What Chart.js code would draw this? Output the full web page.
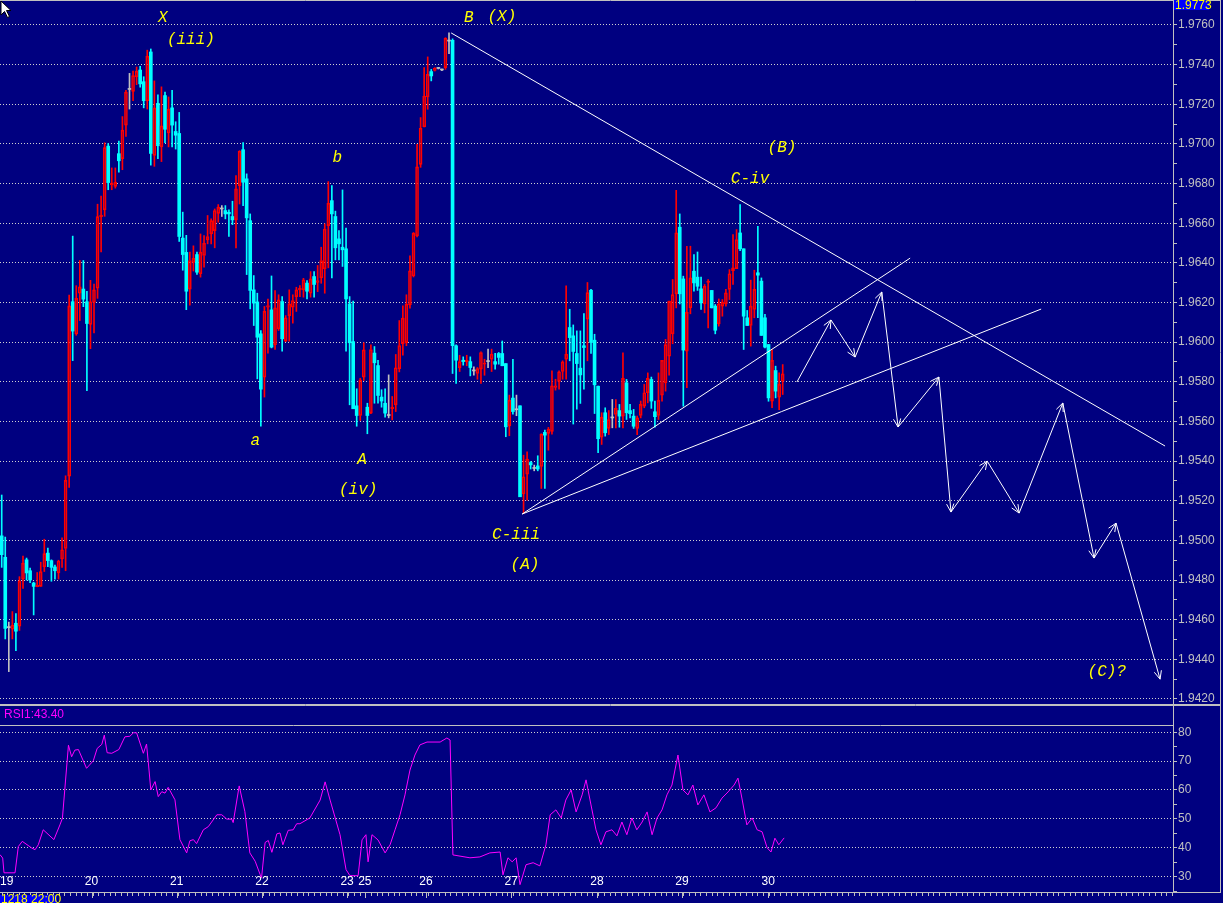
<!DOCTYPE html>
<html>
<head>
<meta charset="utf-8">
<script src="https://cdn.jsdelivr.net/npm/chart.js@4.4.1/dist/chart.umd.min.js"></script>
<style>
html,body{margin:0;padding:0;background:#000080;overflow:hidden;}
body{width:1223px;height:903px;position:relative;}
#w1{position:absolute;left:0;top:0;width:1223px;height:705px;}
#w2{position:absolute;left:0;top:705px;width:1223px;height:198px;}
</style>
</head>
<body>
<div id="w1"><canvas id="c1"></canvas></div>
<div id="w2"><canvas id="c2"></canvas></div>
<script>
// ---------------- DATA ----------------
const open = [1.95023,1.94915,1.94560,1.94552,1.94582,1.94567,1.94805,1.94902,1.94847,1.94785,
1.94766,1.94768,1.94867,1.94936,1.94898,1.94866,1.94836,1.94906,1.94959,1.95324,
1.96204,1.96041,1.96247,1.96268,1.96204,1.96090,1.96200,1.96272,1.96633,1.96667,
1.96989,1.96794,1.96786,1.96951,1.96926,1.97095,1.97275,1.97265,1.97339,1.97373,
1.97314,1.97218,1.97464,1.96942,1.97205,1.96985,1.97244,1.97055,1.97182,1.97063,
1.97053,1.96525,1.96453,1.96268,1.96402,1.96442,1.96345,1.96437,1.96516,1.96546,
1.96563,1.96650,1.96672,1.96664,1.96655,1.96634,1.96617,1.96790,1.96971,1.96824,
1.96613,1.96264,1.96203,1.96042,1.95824,1.96176,1.96163,1.95987,1.96067,1.96205,
1.96005,1.96134,1.96176,1.96230,1.96264,1.96264,1.96298,1.96247,1.96331,1.96302,
1.96324,1.96370,1.96588,1.96714,1.96634,1.96521,1.96479,1.96471,1.96193,1.96003,
1.95679,1.95630,1.95824,1.95672,1.95642,1.95945,1.95882,1.95723,1.95692,1.95630,
1.95664,1.95684,1.95866,1.95993,1.95998,1.96188,1.96334,1.96536,1.96897,1.97086,
1.97237,1.97365,1.97371,1.97381,1.97373,1.97385,1.97519,1.97523,1.95982,1.95872,
1.95909,1.95902,1.95902,1.95855,1.95842,1.95864,1.95889,1.95902,1.95914,1.95902,
1.95943,1.95943,1.95892,1.95578,1.95718,1.95659,1.95679,1.95234,1.95334,1.95393,
1.95363,1.95376,1.95373,1.95545,1.95540,1.95550,1.95772,1.95802,1.95852,1.95914,
1.96074,1.96032,1.95943,1.95869,1.95982,1.96116,1.96262,1.96010,1.95778,1.95521,
1.95644,1.95565,1.95618,1.95635,1.95655,1.95627,1.95795,1.95655,1.95627,1.95565,
1.95630,1.95677,1.95745,1.95812,1.95649,1.95630,1.95733,1.95795,1.95929,1.96042,
1.96244,1.96580,1.96319,1.95955,1.96173,1.96358,1.96328,1.96269,1.96193,1.96302,
1.96261,1.96182,1.96092,1.96182,1.96193,1.96266,1.96361,1.96371,1.96551,1.96471,
1.96123,1.96084,1.96165,1.96350,1.96308,1.96123,1.95988,1.95703,1.95857,1.95723,
1.95803];
const high = [1.95229,1.95017,1.94588,1.94641,1.94631,1.94817,1.94921,1.94911,1.94860,1.94789,
1.94838,1.94890,1.95006,1.94961,1.94902,1.94875,1.94900,1.95013,1.95326,1.96238,
1.96535,1.96285,1.96412,1.96412,1.96257,1.96312,1.96293,1.96696,1.96737,1.97006,
1.97002,1.96879,1.96879,1.97015,1.97138,1.97271,1.97356,1.97367,1.97388,1.97392,
1.97339,1.97473,1.97479,1.97318,1.97248,1.97288,1.97261,1.97237,1.97271,1.97112,
1.97159,1.96656,1.96539,1.96455,1.96486,1.96455,1.96546,1.96538,1.96639,1.96622,
1.96672,1.96694,1.96689,1.96689,1.96667,1.96711,1.96840,1.96966,1.97007,1.96849,
1.96647,1.96336,1.96247,1.96059,1.96180,1.96218,1.96334,1.96260,1.96239,1.96230,
1.96134,1.96264,1.96239,1.96277,1.96286,1.96322,1.96311,1.96356,1.96356,1.96387,
1.96479,1.96597,1.96810,1.96790,1.96661,1.96563,1.96768,1.96576,1.96230,1.96207,
1.95765,1.95818,1.95997,1.95692,1.95987,1.95978,1.95908,1.95760,1.95765,1.95835,
1.95726,1.95938,1.96109,1.96183,1.96239,1.96435,1.96553,1.96998,1.97133,1.97385,
1.97439,1.97376,1.97385,1.97383,1.97378,1.97536,1.97561,1.97530,1.95987,1.95934,
1.95926,1.95934,1.95926,1.95876,1.95872,1.95951,1.95914,1.95965,1.95965,1.95944,
1.95948,1.96006,1.95892,1.95733,1.95914,1.95733,1.95679,1.95430,1.95447,1.95398,
1.95380,1.95427,1.95538,1.95556,1.95570,1.95855,1.95813,1.95855,1.95906,1.96284,
1.96166,1.96087,1.96057,1.96057,1.96144,1.96301,1.96267,1.96040,1.95778,1.95644,
1.95669,1.95655,1.95711,1.95711,1.95686,1.95946,1.95812,1.95686,1.95661,1.95627,
1.95703,1.95787,1.95845,1.95824,1.95703,1.95845,1.95908,1.96014,1.96207,1.96316,
1.96766,1.96647,1.96333,1.96484,1.96484,1.96442,1.96455,1.96328,1.96291,1.96316,
1.96261,1.96190,1.96218,1.96215,1.96266,1.96366,1.96543,1.96568,1.96694,1.96471,
1.96160,1.96313,1.96363,1.96585,1.96324,1.96140,1.95988,1.95963,1.95879,1.95845,
1.95887];
const low = [1.94864,1.94503,1.94338,1.94503,1.94444,1.94546,1.94758,1.94800,1.94787,1.94624,
1.94766,1.94768,1.94843,1.94867,1.94794,1.94805,1.94805,1.94864,1.94847,1.95267,
1.95907,1.96035,1.96109,1.96179,1.95755,1.95967,1.96047,1.96221,1.96455,1.96635,
1.96769,1.96769,1.96777,1.96858,1.96870,1.97038,1.97176,1.97218,1.97299,1.97286,
1.97182,1.97176,1.96893,1.96887,1.96926,1.96911,1.97006,1.96985,1.96985,1.96974,
1.96508,1.96363,1.96164,1.96187,1.96359,1.96342,1.96328,1.96378,1.96496,1.96496,
1.96476,1.96605,1.96634,1.96622,1.96533,1.96593,1.96476,1.96697,1.96689,1.96341,
1.96168,1.96084,1.95815,1.95576,1.95723,1.95945,1.95971,1.95963,1.96059,1.95955,
1.96003,1.96005,1.96096,1.96155,1.96230,1.96227,1.96218,1.96227,1.96227,1.96255,
1.96297,1.96247,1.96375,1.96324,1.96415,1.96415,1.96382,1.95955,1.95684,1.95664,
1.95576,1.95605,1.95807,1.95538,1.95639,1.95692,1.95692,1.95672,1.95622,1.95618,
1.95608,1.95650,1.95850,1.95934,1.95982,1.96171,1.96329,1.96531,1.96882,1.97086,
1.97175,1.97318,1.97368,1.97378,1.97369,1.97376,1.97455,1.95842,1.95792,1.95852,
1.95884,1.95881,1.95830,1.95833,1.95813,1.95792,1.95833,1.95872,1.95852,1.95864,
1.95889,1.95881,1.95523,1.95528,1.95637,1.95629,1.95220,1.95136,1.95203,1.95360,
1.95351,1.95351,1.95262,1.95262,1.95455,1.95536,1.95758,1.95763,1.95813,1.95813,
1.95906,1.95587,1.95662,1.95691,1.95763,1.95906,1.95943,1.95640,1.95442,1.95484,
1.95526,1.95534,1.95568,1.95568,1.95571,1.95568,1.95610,1.95618,1.95565,1.95534,
1.95618,1.95669,1.95694,1.95666,1.95571,1.95610,1.95703,1.95753,1.95834,1.95992,
1.96173,1.96193,1.95677,1.95770,1.96143,1.96257,1.96261,1.96165,1.96148,1.96072,
1.96173,1.96042,1.96081,1.96131,1.96182,1.96215,1.96291,1.96371,1.96462,1.95963,
1.96084,1.95980,1.96123,1.96123,1.96034,1.95971,1.95702,1.95669,1.95719,1.95660,
1.95736];
const close = [1.94928,1.94556,1.94560,1.94573,1.94542,1.94794,1.94885,1.94836,1.94800,1.94768,
1.94775,1.94843,1.94933,1.94898,1.94864,1.94847,1.94896,1.94953,1.95303,1.96183,
1.96056,1.96221,1.96279,1.96217,1.96094,1.96204,1.96264,1.96633,1.96641,1.96981,
1.96805,1.96803,1.96806,1.96915,1.97070,1.97261,1.97275,1.97345,1.97367,1.97303,
1.97218,1.97443,1.96952,1.97182,1.96991,1.97091,1.97074,1.97176,1.97095,1.97044,
1.96533,1.96442,1.96257,1.96412,1.96423,1.96353,1.96454,1.96499,1.96533,1.96613,
1.96664,1.96681,1.96672,1.96647,1.96647,1.96617,1.96773,1.96963,1.96807,1.96627,
1.96261,1.96197,1.96025,1.95763,1.96155,1.96185,1.95975,1.96173,1.96213,1.96017,
1.96123,1.96193,1.96210,1.96264,1.96272,1.96315,1.96257,1.96319,1.96291,1.96311,
1.96412,1.96571,1.96701,1.96647,1.96476,1.96496,1.96466,1.96218,1.95997,1.95664,
1.95630,1.95810,1.95961,1.95630,1.95963,1.95896,1.95731,1.95703,1.95642,1.95630,
1.95672,1.95871,1.95983,1.96121,1.96192,1.96360,1.96550,1.96884,1.97079,1.97242,
1.97351,1.97343,1.97381,1.97381,1.97373,1.97533,1.97519,1.95982,1.95909,1.95902,
1.95902,1.95909,1.95872,1.95855,1.95867,1.95948,1.95892,1.95902,1.95939,1.95889,
1.95923,1.95881,1.95573,1.95708,1.95650,1.95659,1.95220,1.95321,1.95410,1.95381,
1.95363,1.95360,1.95536,1.95531,1.95561,1.95780,1.95780,1.95851,1.95901,1.95939,
1.96023,1.95953,1.95892,1.95835,1.95973,1.96250,1.95998,1.95785,1.95513,1.95622,
1.95543,1.95610,1.95618,1.95666,1.95627,1.95817,1.95644,1.95639,1.95576,1.95618,
1.95686,1.95745,1.95817,1.95703,1.95624,1.95706,1.95908,1.95988,1.96207,1.96240,
1.96551,1.96244,1.95960,1.96151,1.96324,1.96299,1.96282,1.96198,1.96282,1.96307,
1.96173,1.96060,1.96193,1.96202,1.96249,1.96345,1.96375,1.96518,1.96471,1.96131,
1.96084,1.96182,1.96266,1.96338,1.96034,1.95975,1.95719,1.95908,1.95753,1.95787,
1.95840];

// RSI line vertices (bar index, value)
const rsiIdx = [-0.48,0.28,0.65,3.75,4.68,5.8,8.45,9.4,10.3,11.7,14.7,16.4,17.1,18.8,19.7,20.6,21.6,23.9,25.8,26.9,
28.2,28.9,29.7,31.0,33.0,34.7,36.1,37.1,38.0,39.9,40.8,41.5,42.0,43.2,44.1,45.1,46.0,46.9,48.8,50.2,
52.1,53.0,54.0,54.9,56.8,58.2,60.6,62.0,63.4,64.8,65.2,66.9,68.5,69.9,71.4,72.8,73.2,74.2,75.1,76.1,
77.5,78.4,79.2,80.7,82.1,83.1,84.0,
86.8,89.7,91.1,92.5,95.3,97.0,98.1,100.4,101.5,102.6,103.2,104.3,106.0,108.0,109.4,110.8,112.2,113.6,115.0,116.4,
117.8,119.8,123.5,125.4,126.3,127.1,131.9,134.7,137.5,140.4,141.2,142.6,143.8,144.9,146.0,147.7,149.7,151.6,153.3,154.5,
156.1,157.6,158.9,160.4,161.8,163.5,164.6,166.0,167.4,168.8,170.2,171.9,173.3,174.7,176.1,177.5,178.9,180.4,181.8,183.2,
184.6,186.0,187.4,188.8,190.5,191.9,193.3,194.7,196.1,197.8,199.5,201.2,202.9,204.6,206.3,207.4,208.5,209.9,211.4,212.8,
214.2,215.6,216.7,217.8,218.9,220.4];
const rsiVal = [37.6,36.4,31.3,31.3,40.4,42.2,39.9,39.3,41.0,46.2,42.8,47.9,50.2,75.5,71.5,73.8,74.0,67.5,70.1,74.4,
75.8,79.0,72.9,72.7,74.0,78.4,78.6,79.8,79.8,72.7,75.9,66.9,60.0,62.9,57.7,59.4,58.9,60.9,56.6,42.8,
38.2,42.4,42.8,41.4,46.2,47.3,51.4,51.4,49.9,49.9,48.7,61.4,52.5,38.2,35.3,30.7,29.6,41.8,42.5,38.4,
44.8,45.1,41.0,46.0,46.2,48.3,48.3,
50.3,56.5,62.8,56.5,44.5,32.4,30.3,30.3,42.7,44.5,35.1,44.5,42.7,38.2,41.0,46.2,51.4,58.3,66.9,72.1,
75.6,76.6,76.6,78.0,77.3,37.5,36.5,36.8,38.2,38.5,30.6,36.5,35.1,36.5,27.2,34.1,34.8,33.7,41.0,51.4,
53.1,50.3,56.5,60.0,52.4,58.3,63.5,54.8,46.2,41.0,45.5,46.2,44.1,48.9,44.5,50.3,46.2,48.9,52.4,44.5,
50.3,53.1,58.3,61.7,72.1,60.0,58.3,61.7,54.8,58.3,52.4,53.8,57.2,59.3,61.7,64.1,57.2,47.9,50.3,46.2,
45.5,40.0,38.5,43.3,41.0,43.4];
const rsiLastLabel = 'RSI1:43.40';

// axis ticks
const priceLabels = ['1.9420','1.9440','1.9460','1.9480','1.9500','1.9520','1.9540','1.9560','1.9580',
'1.9600','1.9620','1.9640','1.9660','1.9680','1.9700','1.9720','1.9740','1.9760'];
const rsiLabels = ['30','40','50','60','70','80'];
const dayLabels = ['19','20','21','22','23','25','26','27','28','29','30'];
const dayTickIdx = [1.4,25.3,49.3,73.3,97.3,102.3,119.5,143.5,167.7,191.6,215.9];
const lastPriceLabel = '1.9773';
const timeBoxLabel = '1218 22:00';

// trendlines (bar index, price)
const upperTrendX = [126.6, 327.7];
const upperTrendY = [1.97560, 1.95476];
const triUpperX = [146.6, 255.9];
const triUpperY = [1.95133, 1.96424];
const triLowerX = [146.6, 292.8];
const triLowerY = [1.95133, 1.96167];
// projected path with arrows
const projX = [224.0, 233.6, 240.4, 247.9, 252.5, 264.0, 267.4, 277.6, 286.6, 298.9, 307.7, 313.9, 326.3];
const projY = [1.95799, 1.96112, 1.95925, 1.96253, 1.95572, 1.95824, 1.95143, 1.95400, 1.95138, 1.95693, 1.94911, 1.95087, 1.94300];

// wave labels
const waveText = ['X','(iii)','B','(X)','b','a','A','(iv)','C-iii','(A)','(B)','C-iv','(C)?'];
const waveX = [45.4, 53.3, 131.6, 140.9, 94.5, 71.4, 101.5, 100.4, 144.9, 147.4, 219.8, 210.8, 311.3];
const waveY = [1.97635, 1.97524, 1.97635, 1.97640, 1.96929, 1.95501, 1.95405, 1.95254, 1.95027, 1.94875, 1.96979, 1.96823, 1.94336];

// ---------------- CONFIG ----------------
const X_MIN = -0.48, X_MAX = 329.94;
const P_MIN = 1.941697, P_MAX = 1.977261;
const R_MIN = 25, R_MAX = 82.5;
const GRAY = '#c0c0c0', RED = '#ff0000', CYAN = '#00ffff', DOJI = '#c0c0c0';
const FONT = 'Liberation Sans';

const idx = open.map((_, i) => i);
const dir = idx.map(i => close[i] > open[i] ? 1 : (close[i] < open[i] ? -1 : 0));
const colOf = i => dir[i] > 0 ? RED : (dir[i] < 0 ? CYAN : DOJI);

const upperWick = idx.map(i => ({x: i, y: [Math.max(open[i], close[i]), high[i]]}));
const lowerWick = idx.map(i => ({x: i, y: [low[i], Math.min(open[i], close[i])]}));
const bodies = idx.map(i => ({x: i, y: [open[i], close[i]]}));
const pts = (xs, ys) => xs.map((x, k) => ({x, y: ys[k]}));

const priceMajor = priceLabels.map(parseFloat);
const priceTicks = [];
priceMajor.forEach((v, k) => {
  priceTicks.push(v);
  if (k < priceMajor.length - 1) priceTicks.push((v + priceMajor[k + 1]) / 2);
});
const isPriceMajor = v => priceMajor.some(m => Math.abs(m - v) < 1e-7);
const priceLabelOf = v => { const k = priceMajor.findIndex(m => Math.abs(m - v) < 1e-7); return k >= 0 ? priceLabels[k] : ''; };

const rsiMajor = rsiLabels.map(parseFloat);
const rsiTicks = [25];
rsiMajor.forEach((v, k) => { rsiTicks.push(v); if (k < rsiMajor.length - 1) rsiTicks.push(v + 5); });
const isRsiMajor = v => rsiMajor.includes(v);

function line(ctx, x1, y1, x2, y2, color, w) {
  ctx.save(); ctx.strokeStyle = color; ctx.lineWidth = w || 1;
  ctx.beginPath(); ctx.moveTo(x1, y1); ctx.lineTo(x2, y2); ctx.stroke(); ctx.restore();
}

const mainDeco = {
  id: 'mainDeco',
  afterDatasetsDraw(chart) {
    const {ctx, scales: {x, y}} = chart;
    const meta = chart.getDatasetMeta(chart.data.datasets.findIndex(d => d.label === 'projection'));
    const p = meta.data;
    ctx.save();
    ctx.strokeStyle = '#ffffff'; ctx.lineWidth = 1;
    for (let k = 1; k < p.length; k++) {
      const a = Math.atan2(p[k].y - p[k-1].y, p[k].x - p[k-1].x);
      const L = 9, s = 0.42;
      ctx.beginPath();
      ctx.moveTo(p[k].x - L * Math.cos(a - s), p[k].y - L * Math.sin(a - s));
      ctx.lineTo(p[k].x, p[k].y);
      ctx.lineTo(p[k].x - L * Math.cos(a + s), p[k].y - L * Math.sin(a + s));
      ctx.stroke();
    }
    ctx.restore();
    ctx.save();
    ctx.font = 'italic 16px "Liberation Mono"';
    ctx.fillStyle = '#ffff00';
    ctx.textAlign = 'center'; ctx.textBaseline = 'middle';
    waveText.forEach((t, k) => ctx.fillText(t, x.getPixelForValue(waveX[k]), y.getPixelForValue(waveY[k])));
    ctx.restore();
  },
  afterDraw(chart) {
    const {ctx} = chart;
    const H = chart.height;
    line(ctx, 0, 0.5, 1221, 0.5, GRAY);
    line(ctx, 1220.5, 0, 1220.5, H, GRAY);
    line(ctx, 0, H - 0.5, 1221, H - 0.5, GRAY);
    ctx.save();
    ctx.fillStyle = '#0000ff';
    ctx.fillRect(1174, 0, 35, 10);
    ctx.fillStyle = '#ffff00';
    ctx.font = '12px "' + FONT + '"';
    ctx.textBaseline = 'alphabetic';
    ctx.fillText(lastPriceLabel, 1175, 9);
    ctx.restore();
    ctx.save();
    ctx.beginPath();
    ctx.moveTo(1, 1); ctx.lineTo(1, 15); ctx.lineTo(4.5, 11.5); ctx.lineTo(7.5, 17.5);
    ctx.lineTo(9.5, 16.5); ctx.lineTo(6.5, 10.5); ctx.lineTo(11, 10.5); ctx.closePath();
    ctx.fillStyle = '#ffffff'; ctx.fill();
    ctx.strokeStyle = '#000000'; ctx.lineWidth = 1; ctx.stroke();
    ctx.restore();
  }
};

const rsiDeco = {
  id: 'rsiDeco',
  afterDraw(chart) {
    const {ctx, scales: {x}} = chart;
    const top = chart.chartArea.top, bottom = chart.chartArea.bottom, right = chart.chartArea.right;
    line(ctx, 0, 0.5, 1221, 0.5, GRAY);
    line(ctx, 0, top + 0.5, right + 1, top + 0.5, GRAY);
    line(ctx, right + 0.5, 0, right + 0.5, top, GRAY);
    line(ctx, 1220.5, 0, 1220.5, bottom + 2, GRAY);
    line(ctx, 0, bottom + 1.5, 1221, bottom + 1.5, GRAY);
    ctx.save();
    ctx.strokeStyle = GRAY; ctx.lineWidth = 1;
    for (let v = X_MIN + 0.5; v < X_MAX; v += 1.6) {
      const px = Math.round(x.getPixelForValue(v)) + 0.5;
      ctx.beginPath(); ctx.moveTo(px, bottom + 2); ctx.lineTo(px, bottom + 5); ctx.stroke();
    }
    dayTickIdx.forEach(v => {
      const px = Math.round(x.getPixelForValue(v)) + 0.5;
      ctx.beginPath(); ctx.moveTo(px, bottom + 2); ctx.lineTo(px, bottom + 7); ctx.stroke();
    });
    ctx.restore();
    // day labels (time axis) inside the panel
    ctx.save();
    ctx.font = '12px "' + FONT + '"';
    ctx.fillStyle = '#ffffff';
    ctx.textAlign = 'center'; ctx.textBaseline = 'middle';
    dayTickIdx.forEach((v, k) => ctx.fillText(dayLabels[k], x.getPixelForValue(v), bottom - 9));
    ctx.restore();
    ctx.save();
    ctx.font = '12px "' + FONT + '"';
    ctx.fillStyle = '#ff00ff';
    ctx.textBaseline = 'middle';
    ctx.fillText(rsiLastLabel, 4, 10);
    ctx.fillStyle = '#0000ff';
    ctx.fillRect(0, bottom + 4, 57, chart.height - bottom - 4);
    ctx.fillStyle = '#ffff00';
    ctx.textBaseline = 'alphabetic';
    ctx.fillText(timeBoxLabel, 1, chart.height);
    ctx.restore();
  }
};

Chart.defaults.font.family = FONT;

new Chart(document.getElementById('c1'), {
  type: 'bar',
  data: {
    datasets: [
      {label: 'upperTrend', type: 'line', data: pts(upperTrendX, upperTrendY), borderColor: '#ffffff', borderWidth: 1, pointRadius: 0, order: 0},
      {label: 'triUpper', type: 'line', data: pts(triUpperX, triUpperY), borderColor: '#ffffff', borderWidth: 1, pointRadius: 0, order: 0},
      {label: 'triLower', type: 'line', data: pts(triLowerX, triLowerY), borderColor: '#ffffff', borderWidth: 1, pointRadius: 0, order: 0},
      {label: 'projection', type: 'line', data: pts(projX, projY), borderColor: '#ffffff', borderWidth: 1, pointRadius: 0, order: 0},
      {label: 'bodies', data: bodies, barThickness: 3, grouped: false, minBarLength: 1, borderSkipped: false,
        backgroundColor: c => dir[c.dataIndex] > 0 ? 'rgba(0,0,0,0)' : colOf(c.dataIndex),
        borderColor: c => colOf(c.dataIndex),
        borderWidth: c => dir[c.dataIndex] > 0 ? 1 : 0, order: 1},
      {label: 'upperWick', data: upperWick, barThickness: 1, grouped: false, borderWidth: 0,
        backgroundColor: c => colOf(c.dataIndex), order: 2},
      {label: 'lowerWick', data: lowerWick, barThickness: 1, grouped: false, borderWidth: 0,
        backgroundColor: c => colOf(c.dataIndex), order: 2}
    ]
  },
  options: {
    responsive: true, maintainAspectRatio: false, animation: false, events: [],
    layout: {padding: 0},
    plugins: {legend: {display: false}, tooltip: {enabled: false}},
    scales: {
      x: {type: 'linear', min: X_MIN, max: X_MAX, display: false, offset: false},
      y: {
        position: 'right', min: P_MIN, max: P_MAX,
        afterBuildTicks: s => { s.ticks = priceTicks.map(v => ({value: v})); },
        afterFit: s => { s.width = 50; s.paddingTop = 0; s.paddingBottom = 0; },
        ticks: {color: GRAY, font: {family: FONT, size: 12}, padding: 1, autoSkip: false,
          callback: v => priceLabelOf(v)},
        grid: {
          color: c => (c.tick && isPriceMajor(c.tick.value)) ? '#d0d0d0' : 'rgba(0,0,0,0)',
          tickColor: GRAY, tickLength: 4, drawOnChartArea: true, drawTicks: true, lineWidth: 1
        },
        border: {display: true, color: GRAY, width: 1, dash: [1, 2]}
      }
    }
  },
  plugins: [mainDeco]
});

new Chart(document.getElementById('c2'), {
  type: 'line',
  data: {
    datasets: [{label: 'RSI', data: pts(rsiIdx, rsiVal), borderColor: '#ff00ff', borderWidth: 1, pointRadius: 0, tension: 0}]
  },
  options: {
    responsive: true, maintainAspectRatio: false, animation: false, events: [],
    layout: {padding: {top: 20, left: 0, right: 0, bottom: 0}},
    plugins: {legend: {display: false}, tooltip: {enabled: false}},
    scales: {
      x: {
        type: 'linear', min: X_MIN, max: X_MAX, position: 'bottom', offset: false,
        afterBuildTicks: s => { s.ticks = dayTickIdx.map(v => ({value: v})); },
        afterFit: s => { s.height = 12; s.paddingLeft = 0; s.paddingRight = 0; },
        ticks: {display: false},
        grid: {display: false}, border: {display: false}
      },
      y: {
        position: 'right', min: R_MIN, max: R_MAX,
        afterBuildTicks: s => { s.ticks = rsiTicks.map(v => ({value: v})); },
        afterFit: s => { s.width = 50; s.paddingTop = 0; s.paddingBottom = 0; },
        ticks: {color: GRAY, font: {family: FONT, size: 12}, padding: 1, autoSkip: false,
          callback: v => isRsiMajor(v) ? String(v) : ''},
        grid: {
          color: c => (c.tick && isRsiMajor(c.tick.value)) ? '#d0d0d0' : 'rgba(0,0,0,0)',
          tickColor: GRAY, tickLength: 4, drawOnChartArea: true, drawTicks: true, lineWidth: 1
        },
        border: {display: true, color: GRAY, width: 1, dash: [1, 2]}
      }
    }
  },
  plugins: [rsiDeco]
});
</script>
</body>
</html>
